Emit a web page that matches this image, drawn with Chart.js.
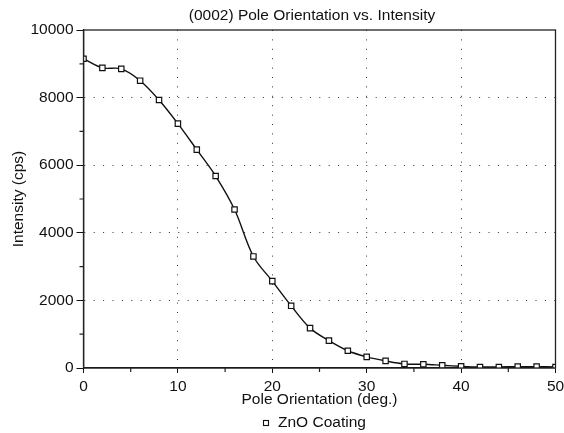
<!DOCTYPE html>
<html>
<head>
  <title>(0002) Pole Orientation vs. Intensity</title>
  <style>
    html, body { margin: 0; padding: 0; background: #fff; }
    #wrap { width: 564px; height: 433px; }
  </style>
</head>
<body>
  <div id="wrap"><canvas id="chart" width="564" height="433"></canvas></div>

  <script src="https://cdn.jsdelivr.net/npm/chart.js@4.4.0/dist/chart.umd.js"></script>
  <script>
    // data
    const angles = [0, 2, 4, 6, 8, 10, 12, 14, 16, 18, 20, 22, 24, 26, 28, 30, 32, 34, 36, 38, 40, 42, 44, 46, 48, 50];
    const intensity = [9150, 8880, 8850, 8500, 7930, 7230, 6460, 5680, 4690, 3300, 2570, 1840, 1180, 810, 510, 330, 210, 120, 110, 80, 50, 30, 30, 40, 40, 30];
    const xTicks = [0, 10, 20, 30, 40, 50];
    const xMinor = [5, 15, 25, 35, 45];
    const yTicks = [0, 2000, 4000, 6000, 8000, 10000];
    const yMinor = [1000, 3000, 5000, 7000, 9000];

    const titleText = '(0002) Pole Orientation vs. Intensity';
    const seriesName = 'ZnO Coating';
    const FONT = '"Liberation Sans", Arial, sans-serif';
    const INK = '#111';

    const extras = {
      id: 'extras',
      afterDraw(chart) {
        const { ctx, chartArea: a, scales: { x, y } } = chart;
        ctx.save();
        // frame round the plot
        ctx.strokeStyle = '#222';
        ctx.lineWidth = 1.3;
        ctx.strokeRect(a.left, a.top, a.right - a.left, a.bottom - a.top);
        // minor ticks
        ctx.lineWidth = 1.2;
        ctx.beginPath();
        yMinor.forEach(v => {
          const py = y.getPixelForValue(v);
          ctx.moveTo(a.left - 4, py);
          ctx.lineTo(a.left, py);
        });
        xMinor.forEach(v => {
          const px = x.getPixelForValue(v);
          ctx.moveTo(px, a.bottom);
          ctx.lineTo(px, a.bottom + 4);
        });
        ctx.stroke();
        // title
        ctx.fillStyle = INK;
        ctx.font = '15.5px ' + FONT;
        ctx.textAlign = 'center';
        ctx.textBaseline = 'middle';
        ctx.fillText(titleText, 312, 16);
        // legend
        ctx.strokeStyle = INK;
        ctx.lineWidth = 1.1;
        ctx.strokeRect(263.5, 420.5, 5, 5);
        ctx.textAlign = 'left';
        ctx.fillText(seriesName, 278, 423);
        ctx.restore();
      }
    };

    new Chart(document.getElementById('chart'), {
      type: 'line',
      data: {
        labels: angles,
        datasets: [{
          label: seriesName,
          data: angles.map((a, i) => ({ x: a, y: intensity[i] })),
          borderColor: INK,
          borderWidth: 1.4,
          tension: 0.35,
          pointStyle: 'rect',
          pointRadius: 3.8,
          pointBorderWidth: 1.2,
          pointBorderColor: INK,
          pointBackgroundColor: '#fff'
        }]
      },
      options: {
        responsive: false,
        animation: false,
        layout: { padding: { left: 0, right: 8.5, top: 30, bottom: 0 } },
        plugins: {
          legend: { display: false },
          title: { display: false },
          tooltip: { enabled: false }
        },
        scales: {
          x: {
            type: 'linear',
            min: 0,
            max: 50,
            afterFit: s => { s.height = 65; s.paddingLeft = 0; s.paddingRight = 0; },
            afterBuildTicks: s => { s.ticks = xTicks.map(v => ({ value: v })); },
            ticks: { color: INK, font: { family: FONT, size: 15.5 }, padding: 4, maxRotation: 0, callback: v => String(v) },
            grid: {
              color: c => (c.tick && c.tick.value > 0 && c.tick.value < 50) ? '#333' : 'rgba(0,0,0,0)',
              tickColor: INK,
              tickLength: 5,
              tickBorderDash: [],
              lineWidth: 1
            },
            border: { display: true, color: INK, width: 1.3, dash: [1, 8.4] },
            title: {
              display: true,
              text: 'Pole Orientation (deg.)',
              color: INK,
              font: { family: FONT, size: 15.5 },
              padding: { top: 0, bottom: 23.7 }
            }
          },
          y: {
            min: 0,
            max: 10000,
            afterFit: s => { s.width = 83.5; s.paddingTop = 0; s.paddingBottom = 0; },
            afterBuildTicks: s => { s.ticks = yTicks.map(v => ({ value: v })); },
            ticks: { color: INK, font: { family: FONT, size: 15.5 }, padding: 3, callback: v => String(v) },
            grid: {
              color: c => (c.tick && c.tick.value > 0 && c.tick.value < 10000) ? '#333' : 'rgba(0,0,0,0)',
              tickColor: INK,
              tickLength: 7,
              tickBorderDash: [],
              lineWidth: 1
            },
            border: { display: true, color: INK, width: 1.3, dash: [1, 8.4] },
            title: {
              display: true,
              text: 'Intensity (cps)',
              color: INK,
              font: { family: FONT, size: 15.5 },
              padding: { top: 9.7, bottom: 0 }
            }
          }
        }
      },
      plugins: [extras]
    });
  </script>
</body>
</html>
